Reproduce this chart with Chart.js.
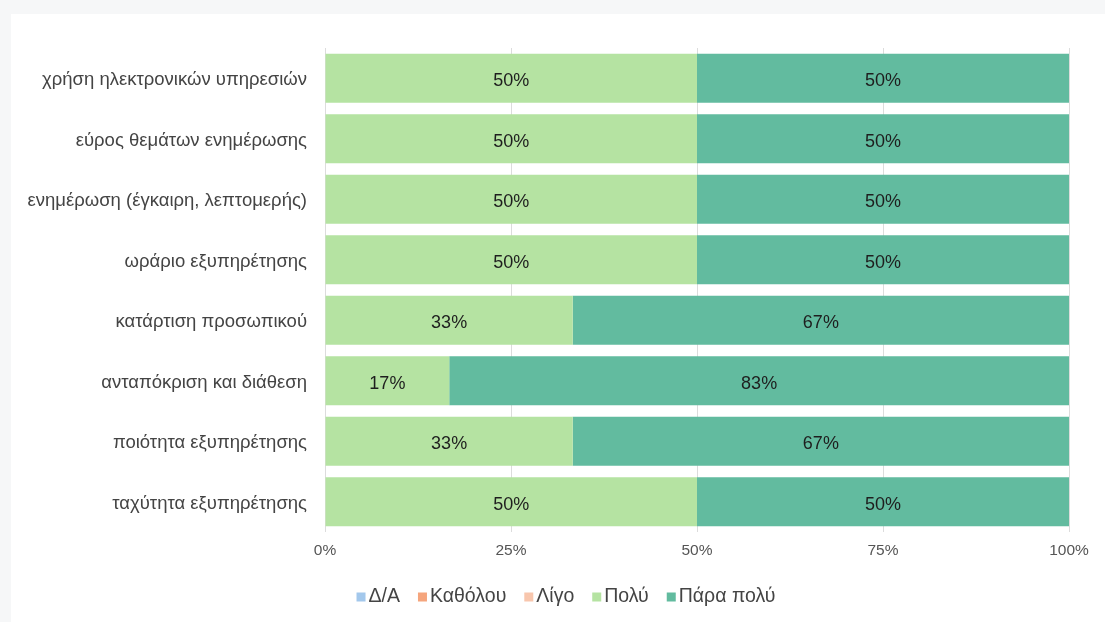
<!DOCTYPE html>
<html>
<head>
<meta charset="utf-8">
<script src="https://cdn.jsdelivr.net/npm/chart.js@4.4.1/dist/chart.umd.min.js"></script>
<style>
  html, body { margin: 0; padding: 0; background: #f6f7f8; width: 1105px; height: 622px; overflow: hidden; }
  #card { position: absolute; left: 11px; top: 14px; width: 1094px; height: 608px; background: #ffffff; }
  canvas { display: block; }
</style>
</head>
<body>
<div id="card"><canvas id="c" width="1094" height="608"></canvas></div>
<script>
const categories = [
  'χρήση ηλεκτρονικών υπηρεσιών',
  'εύρος θεμάτων ενημέρωσης',
  'ενημέρωση (έγκαιρη, λεπτομερής)',
  'ωράριο εξυπηρέτησης',
  'κατάρτιση προσωπικού',
  'ανταπόκριση και διάθεση',
  'ποιότητα εξυπηρέτησης',
  'ταχύτητα εξυπηρέτησης'
];
const seriesNames = ['Δ/Α', 'Καθόλου', 'Λίγο', 'Πολύ', 'Πάρα πολύ'];
const valuesDA      = [0, 0, 0, 0, 0, 0, 0, 0];
const valuesKatholou = [0, 0, 0, 0, 0, 0, 0, 0];
const valuesLigo    = [0, 0, 0, 0, 0, 0, 0, 0];
const valuesPoly    = [50, 50, 50, 50, 33.3, 16.7, 33.3, 50];
const valuesParaPoly = [50, 50, 50, 50, 66.7, 83.3, 66.7, 50];
const xTickLabels = ['0%', '25%', '50%', '75%', '100%'];

const colors = ['#a3c8ec', '#f5a57d', '#f8c6ad', '#b5e3a2', '#62bb9f'];
const allValues = [valuesDA, valuesKatholou, valuesLigo, valuesPoly, valuesParaPoly];

const FONT = '"Liberation Sans", Arial, Helvetica, sans-serif';

const valueLabels = {
  id: 'valueLabels',
  afterDatasetsDraw(chart) {
    const ctx = chart.ctx;
    ctx.save();
    ctx.font = '18px ' + FONT;
    ctx.fillStyle = '#1e1e1e';
    ctx.textAlign = 'center';
    ctx.textBaseline = 'middle';
    chart.data.datasets.forEach((ds, di) => {
      const meta = chart.getDatasetMeta(di);
      meta.data.forEach((bar, i) => {
        const v = ds.data[i];
        if (!v) return;
        const cx = (bar.x + bar.base) / 2;
        ctx.fillText(Math.round(v) + '%', cx, bar.y + 3);
      });
    });
    ctx.restore();
  }
};

// compact legend drawn from the datasets
const compactLegend = {
  id: 'compactLegend',
  afterDraw(chart) {
    const ctx = chart.ctx;
    const box = 9, gapBoxText = 3, gapItems = 18;
    ctx.save();
    ctx.font = '19.5px ' + FONT;
    ctx.textBaseline = 'middle';
    ctx.textAlign = 'left';
    const items = chart.data.datasets.map(ds => ({
      label: ds.label, color: ds.backgroundColor, w: ctx.measureText(ds.label).width
    }));
    let total = 0;
    items.forEach((it, i) => { total += box + gapBoxText + it.w + (i < items.length - 1 ? gapItems : 0); });
    const centerX = 555;
    const cy = 583;
    let x = centerX - total / 2;
    items.forEach(it => {
      ctx.fillStyle = it.color;
      ctx.fillRect(x, cy - box / 2, box, box);
      x += box + gapBoxText;
      ctx.fillStyle = '#444444';
      ctx.fillText(it.label, x, cy);
      x += it.w + gapItems;
    });
    ctx.restore();
  }
};

new Chart(document.getElementById('c'), {
  type: 'bar',
  data: {
    labels: categories,
    datasets: seriesNames.map((n, k) => ({
      label: n,
      data: allValues[k],
      backgroundColor: colors[k],
      borderWidth: 0,
      barPercentage: 0.9,
      categoryPercentage: 0.9
    }))
  },
  options: {
    indexAxis: 'y',
    responsive: false,
    animation: false,
    layout: { padding: { left: 0, right: 36, top: 34, bottom: 52 } },
    scales: {
      x: {
        stacked: true,
        min: 0, max: 100,
        border: { display: false },
        grid: { color: '#dcdcdc', lineWidth: 1, drawTicks: false },
        ticks: {
          stepSize: 25,
          padding: 9,
          color: '#555555',
          font: { family: FONT, size: 15.5 },
          callback: (v, i) => xTickLabels[i]
        },
        afterFit(s) { s.height = 38; }
      },
      y: {
        stacked: true,
        border: { display: false },
        grid: { display: false },
        ticks: {
          padding: 10,
          labelOffset: 2,
          color: '#444444',
          font: { family: FONT, size: 18.5 }
        },
        afterFit(s) { s.width = 314; }
      }
    },
    plugins: {
      legend: { display: false },
      tooltip: { enabled: false }
    }
  },
  plugins: [valueLabels, compactLegend]
});
</script>
</body>
</html>
